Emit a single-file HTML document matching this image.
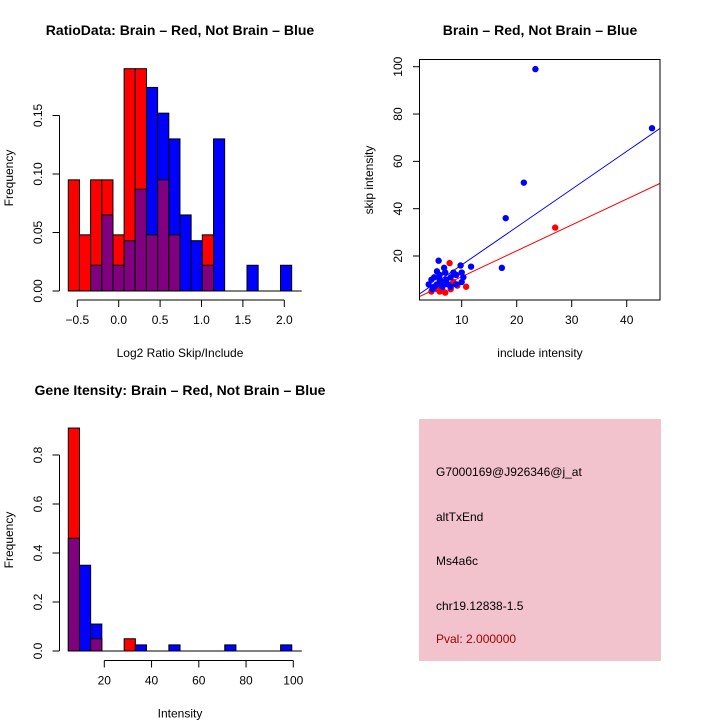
<!DOCTYPE html>
<html><head><meta charset="utf-8"><style>
body{margin:0;background:#fff}
svg{display:block;font-family:"Liberation Sans",sans-serif}
</style></head><body>
<svg id="s" width="720" height="720" xmlns="http://www.w3.org/2000/svg">
<g font-weight="bold" font-size="14" text-anchor="middle">
<text x="180" y="35">RatioData: Brain – Red, Not Brain – Blue</text>
<text x="540" y="35">Brain – Red, Not Brain – Blue</text>
<text x="180" y="395">Gene Itensity: Brain – Red, Not Brain – Blue</text>
</g>
<g id="g1"></g>
<g id="g2"></g>
<g id="g3"></g>
<g font-size="12">
<rect x="419" y="419" width="242" height="242" fill="#f3c3cd"/>
<text x="436" y="476">G7000169@J926346@j_at</text>
<text x="436" y="521">altTxEnd</text>
<text x="436" y="565">Ms4a6c</text>
<text x="436" y="610">chr19.12838-1.5</text>
<text x="436" y="643" fill="#a00000">Pval: 2.000000</text>
</g>
</svg>
<script>
// ratio histogram
const ratioBinStart = -0.609, ratioBinWidth = 0.1349;
const ratioRed = [0.095,0.048,0.095,0.095,0.048,0.190,0.190,0.048,0.095,0.048,0,0,0.048,0,0,0,0,0,0,0];
const ratioBlue = [0,0,0.022,0.065,0.022,0.043,0.087,0.174,0.152,0.130,0.065,0.043,0.022,0.130,0,0,0.022,0,0,0.022];
const ratioXTicks = [-0.5,0,0.5,1,1.5,2];
const ratioXLabels = ["−0.5","0.0","0.5","1.0","1.5","2.0"];
const ratioYTicks = [0,0.05,0.10,0.15];
const ratioYLabels = ["0.00","0.05","0.10","0.15"];
// intensity histogram
const intBinStart = 4.76, intBinWidth = 4.73;
const intRed = [0.91,0,0.05,0,0,0.05,0,0,0,0,0,0,0,0,0,0,0,0,0,0];
const intBlue = [0.46,0.35,0.11,0,0,0,0.025,0,0,0.025,0,0,0,0,0.025,0,0,0,0,0.025];
const intXTicks = [20,40,60,80,100];
const intYTicks = [0,0.2,0.4,0.6,0.8];
const intYLabels = ["0.0","0.2","0.4","0.6","0.8"];
// scatter
const blueX = [23.4,44.6,21.3,18.0,17.3,11.7,9.8,5.8,6.8,10,8.5,5.5,4,4.5,5,6,7,8,9,10,6.5,7.5,5,8,9,6,7,4.7,5.5,10.3,6.3,7.2];
const blueY = [99,74,51,36,15,15.5,16,18,15,13,13,13.5,8,10,11,10,9,11,12,9,7,8,7,7,8,12,13,6,8,11,9,10];
const redX = [27,7.8,10.8,4.5,6,7,8,9,5.5,6.5,8.5,9.2];
const redY = [32,17,7,5,5,4.5,6,8,6,5.5,9,7.5];
const fitBlue = [0.23,1.60], fitRed = [0.3,1.094];
const scXTicks = [10,20,30,40], scYTicks = [20,40,60,80,100];

const NS="http://www.w3.org/2000/svg";
function mk(p,t,a){const e=document.createElementNS(NS,t);for(const k in a)e.setAttribute(k,a[k]);p.appendChild(e);return e;}

function hist(g,start,w,red,blue,sx,sy,base,xt,xl,yt,yl,axY,xlab,y0){
  for(let i=0;i<red.length;i++){
    const x0=sx(start+i*w),x1=sx(start+(i+1)*w);
    const r=red[i],b=blue[i],m=Math.min(r,b),M=Math.max(r,b);
    if(M>0){const e=mk(g,'rect',{x:x0,y:sy(M),width:x1-x0,height:base-sy(M),fill:r>=b?'#ff0000':'#0000ff',stroke:'#000','stroke-width':1});
      
      }
    if(m>0){const e=mk(g,'rect',{x:x0,y:sy(m),width:x1-x0,height:base-sy(m),fill:'#800080',stroke:'#000','stroke-width':1});
      
      }
  }
  mk(g,'line',{x1:sx(start),x2:sx(start+red.length*w)+10,y1:base,y2:base,stroke:'#000'});
  mk(g,'line',{x1:sx(xt[0]),x2:sx(xt[xt.length-1]),y1:axY,y2:axY,stroke:'#000'});
  xt.forEach((v,i)=>{mk(g,'line',{x1:sx(v),x2:sx(v),y1:axY,y2:axY+7,stroke:'#000'});
    const t=mk(g,'text',{x:sx(v),y:axY+24,'text-anchor':'middle','font-size':12});t.textContent=xl[i];
    
    });
  mk(g,'line',{x1:59.5,x2:59.5,y1:sy(yt[0]),y2:sy(yt[yt.length-1]),stroke:'#000'});
  yt.forEach((v,i)=>{mk(g,'line',{x1:52.5,x2:59.5,y1:sy(v),y2:sy(v),stroke:'#000'});
    const t=mk(g,'text',{transform:`translate(42,${sy(v)}) rotate(-90)`,'text-anchor':'middle','font-size':12});t.textContent=yl[i];
    
    });
  const xl2=mk(g,'text',{x:180,y:axY+57,'text-anchor':'middle','font-size':12});xl2.textContent=xlab;
  
  
  const yl2=mk(g,'text',{transform:`translate(13,${y0}) rotate(-90)`,'text-anchor':'middle','font-size':12});yl2.textContent='Frequency';
  
  
}
hist(document.getElementById('g1'),ratioBinStart,ratioBinWidth,ratioRed,ratioBlue,
  v=>77.3+(v+0.5)*82.8, v=>291-v*1170, 291, ratioXTicks,ratioXLabels,ratioYTicks,ratioYLabels,300,'Log2 Ratio Skip/Include',178);
hist(document.getElementById('g3'),intBinStart,intBinWidth,intRed,intBlue,
  v=>104.3+(v-20)*2.3625, v=>651-v*245, 651, intXTicks,intXTicks.map(String),intYTicks,intYLabels,660.5,'Intensity',540);

// scatter
(function(){
  const g=document.getElementById('g2');
  const sx=v=>461.7+(v-10)*5.5, sy=v=>256-(v-20)*2.366;
  const xmin=2.29,xmax=46.06;
  const cp=mk(g,'clipPath',{id:'cp'});mk(cp,'rect',{x:419.5,y:59.5,width:240.5,height:240.5});
  [[fitBlue,'#0000ff','fit-line-blue'],[fitRed,'#ff0000','fit-line-red']].forEach(([f,c,n])=>{
    const l=mk(g,'line',{x1:sx(xmin),y1:sy(f[0]+f[1]*xmin),x2:sx(xmax),y2:sy(f[0]+f[1]*xmax),stroke:c,'clip-path':'url(#cp)'});
    
    });
  redX.forEach((x,i)=>{const c=mk(g,'circle',{cx:sx(x),cy:sy(redY[i]),r:3.2,fill:'#ff0000'});
    
    });
  blueX.forEach((x,i)=>{const c=mk(g,'circle',{cx:sx(x),cy:sy(blueY[i]),r:3.2,fill:'#0000ff'});
    
    });
  mk(g,'rect',{x:419.5,y:59.5,width:240.5,height:240.5,fill:'none',stroke:'#000'});
  scXTicks.forEach(v=>{mk(g,'line',{x1:sx(v),x2:sx(v),y1:300,y2:307,stroke:'#000'});
    const t=mk(g,'text',{x:sx(v),y:324,'text-anchor':'middle','font-size':12});t.textContent=v;
    
    });
  scYTicks.forEach(v=>{mk(g,'line',{x1:413,x2:419.5,y1:sy(v),y2:sy(v),stroke:'#000'});
    const t=mk(g,'text',{transform:`translate(402,${sy(v)}) rotate(-90)`,'text-anchor':'middle','font-size':12});t.textContent=v;
    
    });
  const xl=mk(g,'text',{x:540,y:357,'text-anchor':'middle','font-size':12});xl.textContent='include intensity';
  
  
  const yl=mk(g,'text',{transform:'translate(373,180) rotate(-90)','text-anchor':'middle','font-size':12});yl.textContent='skip intensity';
  
  
})();
</script>
</body></html>
